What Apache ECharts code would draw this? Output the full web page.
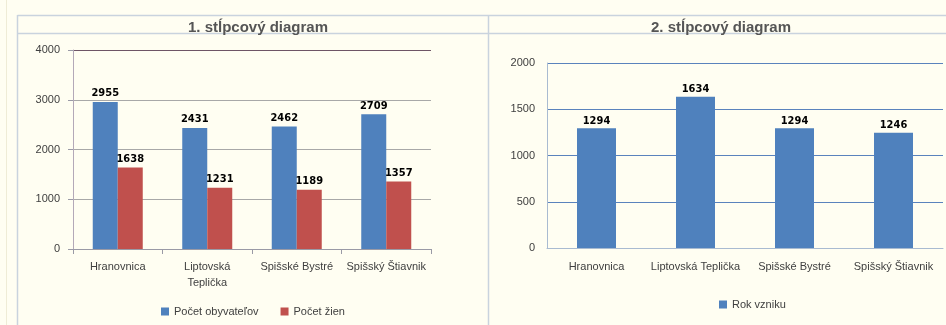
<!DOCTYPE html>
<html>
<head>
<meta charset="utf-8">
<script src="https://cdn.jsdelivr.net/npm/echarts@6/dist/echarts.min.js"></script>
<style>
  html, body { margin: 0; padding: 0; background: #fffef2; }
  #chart { width: 946px; height: 325px; }
</style>
</head>
<body>
<div id="chart"></div>
<script>
// data
const towns = ['Hranovnica', 'Liptovská Teplička', 'Spišské Bystré', 'Spišský Štiavnik'];
const townLabels1 = ['Hranovnica', 'Liptovská\nTeplička', 'Spišské Bystré', 'Spišský Štiavnik'];
const obyvatelia = [2955, 2431, 2462, 2709];
const zeny = [1638, 1231, 1189, 1357];
const rokVzniku = [1294, 1634, 1294, 1246];

const font = 'Liberation Sans';
const chart = echarts.init(document.getElementById('chart'));

const borderColor = '#c9d3de';
const plain = v => String(v);

const option = {
  backgroundColor: '#fffef2',
  textStyle: { fontFamily: font },
  animation: false,
  title: [
    {
      text: '1. stĺpcový diagram',
      left: 253, top: 15, textAlign: 'center',
      textStyle: { fontSize: 15, fontWeight: 'bold', color: '#555', fontFamily: font }
    },
    {
      text: '2. stĺpcový diagram',
      left: 716, top: 15, textAlign: 'center',
      textStyle: { fontSize: 15, fontWeight: 'bold', color: '#555', fontFamily: font }
    }
  ],
  graphic: [
    { type: 'line', shape: { x1: 6.5, y1: 0, x2: 6.5, y2: 325 }, style: { stroke: '#efecd6', lineWidth: 1 } },
    { type: 'line', shape: { x1: 17.5, y1: 15.5, x2: 946, y2: 15.5 }, style: { stroke: borderColor, lineWidth: 1.5 } },
    { type: 'line', shape: { x1: 17.5, y1: 33.5, x2: 946, y2: 33.5 }, style: { stroke: borderColor, lineWidth: 1.5 } },
    { type: 'line', shape: { x1: 17.5, y1: 15, x2: 17.5, y2: 325 }, style: { stroke: borderColor, lineWidth: 1.5 } },
    { type: 'line', shape: { x1: 488.5, y1: 15, x2: 488.5, y2: 325 }, style: { stroke: borderColor, lineWidth: 1.5 } }
  ],
  legend: [
    {
      data: ['Počet obyvateľov', 'Počet žien'],
      left: 156, top: 301,
      itemWidth: 8, itemHeight: 8, itemGap: 22,
      icon: 'rect',
      textStyle: { fontSize: 11, color: '#404040', fontFamily: font }
    },
    {
      data: ['Rok vzniku'],
      left: 714, top: 294,
      itemWidth: 8, itemHeight: 8,
      icon: 'rect',
      textStyle: { fontSize: 11, color: '#404040', fontFamily: font }
    }
  ],
  grid: [
    { left: 73, top: 50, right: 515, bottom: 76 },
    { left: 547, top: 63, right: 3, bottom: 77 }
  ],
  xAxis: [
    {
      gridIndex: 0,
      type: 'category',
      data: townLabels1,
      axisLine: { lineStyle: { color: '#9a9aa6' } },
      axisTick: { show: true, length: 5, lineStyle: { color: '#9a9aa6' } },
      axisLabel: { interval: 0, fontSize: 11, color: '#404040', margin: 10, lineHeight: 16 }
    },
    {
      gridIndex: 1,
      type: 'category',
      data: towns,
      axisLine: { lineStyle: { color: '#a9bbd1' } },
      axisTick: { show: false },
      axisLabel: { interval: 0, fontSize: 11, color: '#404040', margin: 13 }
    }
  ],
  yAxis: [
    {
      gridIndex: 0,
      type: 'value',
      min: 0, max: 4000, interval: 1000,
      axisLine: { show: true, lineStyle: { color: '#b4a9b8' } },
      axisTick: { show: true, length: 5, lineStyle: { color: '#9a9aa6' } },
      axisLabel: { fontSize: 11, color: '#404040', margin: 13, formatter: plain },
      splitLine: { lineStyle: { color: ['#a8a8a8', '#a8a8a8', '#a8a8a8', '#a8a8a8', '#6e5566'] } }
    },
    {
      gridIndex: 1,
      type: 'value',
      min: 0, max: 2000, interval: 500,
      axisLine: { show: true, lineStyle: { color: '#a9bbd1' } },
      axisTick: { show: false },
      axisLabel: { fontSize: 11, color: '#404040', margin: 12, formatter: plain },
      splitLine: { lineStyle: { color: '#5a83bd' } }
    }
  ],
  series: [
    {
      name: 'Počet obyvateľov',
      type: 'bar',
      xAxisIndex: 0, yAxisIndex: 0,
      data: obyvatelia,
      barWidth: 25,
      barGap: '0%',
      itemStyle: { color: '#4f81bd' },
      label: { show: true, position: 'top', distance: 3, fontSize: 11, fontWeight: 'bold', color: '#000', fontFamily: 'DejaVu Sans Condensed' }
    },
    {
      name: 'Počet žien',
      type: 'bar',
      xAxisIndex: 0, yAxisIndex: 0,
      data: zeny,
      barWidth: 25,
      barGap: '0%',
      itemStyle: { color: '#c0504d' },
      label: { show: true, position: 'top', distance: 3, fontSize: 11, fontWeight: 'bold', color: '#000', fontFamily: 'DejaVu Sans Condensed' }
    },
    {
      name: 'Rok vzniku',
      type: 'bar',
      xAxisIndex: 1, yAxisIndex: 1,
      data: rokVzniku,
      barWidth: 39,
      itemStyle: { color: '#4f81bd' },
      label: { show: true, position: 'top', distance: 2, fontSize: 11, fontWeight: 'bold', color: '#000', fontFamily: 'DejaVu Sans Condensed' }
    }
  ]
};

chart.setOption(option);
</script>
</body>
</html>
